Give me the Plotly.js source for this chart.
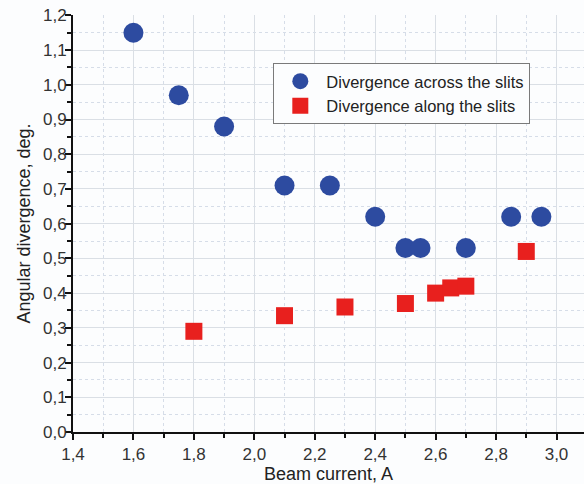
<!DOCTYPE html>
<html>
<head>
<meta charset="utf-8">
<script src="https://cdn.plot.ly/plotly-3.0.1.min.js"></script>
<style>html,body{margin:0;padding:0;background:#fcfdfe;}#chart{width:584px;height:484px;}</style>
</head>
<body>
<div id="chart"></div>
<script>
const acrossCurrent = [1.6, 1.75, 1.9, 2.1, 2.25, 2.4, 2.5, 2.55, 2.7, 2.85, 2.95];
const acrossDivergence = [1.15, 0.97, 0.88, 0.71, 0.71, 0.62, 0.53, 0.53, 0.53, 0.62, 0.62];
const alongCurrent = [1.8, 2.1, 2.3, 2.5, 2.6, 2.65, 2.7, 2.9];
const alongDivergence = [0.29, 0.335, 0.36, 0.37, 0.40, 0.415, 0.42, 0.52];
const seriesNames = ['Divergence across the slits', 'Divergence along the slits'];
const xTitle = 'Beam current, A';
const yTitle = 'Angular divergence, deg.';

const fontFam = '"Liberation Sans", Arial, sans-serif';
const traces = [
  {x: acrossCurrent, y: acrossDivergence, name: seriesNames[0], type: 'scatter', mode: 'markers',
   marker: {symbol: 'circle', size: 20, color: '#2d4ba0', line: {width: 0}}},
  {x: alongCurrent, y: alongDivergence, name: seriesNames[1], type: 'scatter', mode: 'markers',
   marker: {symbol: 'square', size: 17, color: '#e8201e', line: {width: 0}}}
];
const axisCommon = {
  showline: true, linecolor: '#111', linewidth: 2, mirror: false,
  ticks: 'outside', ticklen: 6, tickwidth: 2, tickcolor: '#111',
  showgrid: true, gridcolor: '#dadfe5', gridwidth: 1, zeroline: false,
  tickfont: {family: fontFam, size: 17, color: '#333'}, tickformat: '.1f'
};
const layout = {
  width: 584, height: 484,
  margin: {l: 73, r: 0, t: 15, b: 52},
  paper_bgcolor: '#fcfdfe', plot_bgcolor: '#fcfdfe',
  separators: ', ',
  font: {family: fontFam, color: '#222'},
  showlegend: true,
  legend: {x: 0.392, y: 0.885, xanchor: 'left', yanchor: 'top', itemwidth: 42,
    bgcolor: '#fcfdfe', bordercolor: '#7a7a7a', borderwidth: 1,
    font: {family: fontFam, size: 16.5, color: '#222'}, tracegroupgap: 0},
  xaxis: Object.assign({}, axisCommon, {
    range: [1.4, 3.091], dtick: 0.2, tick0: 1.4,
    minor: {dtick: 0.1, tick0: 1.4, showgrid: true, gridcolor: '#d6dde8', griddash: 'dot', ticks: 'outside', ticklen: 4, tickwidth: 2, tickcolor: '#111'},
    title: {text: xTitle, font: {family: fontFam, size: 18, color: '#222'}, standoff: 4}
  }),
  yaxis: Object.assign({}, axisCommon, {
    range: [0, 1.201], dtick: 0.1, tick0: 0, ticklabelstandoff: -5,
    minor: {dtick: 0.05, tick0: 0, showgrid: true, gridcolor: '#d6dde8', griddash: 'dot', ticks: 'outside', ticklen: 4, tickwidth: 2, tickcolor: '#111'},
    title: {text: yTitle, font: {family: fontFam, size: 18, color: '#222'}, standoff: 8}
  })
};
Plotly.newPlot('chart', traces, layout, {displayModeBar: false, staticPlot: true});
</script>
</body>
</html>
